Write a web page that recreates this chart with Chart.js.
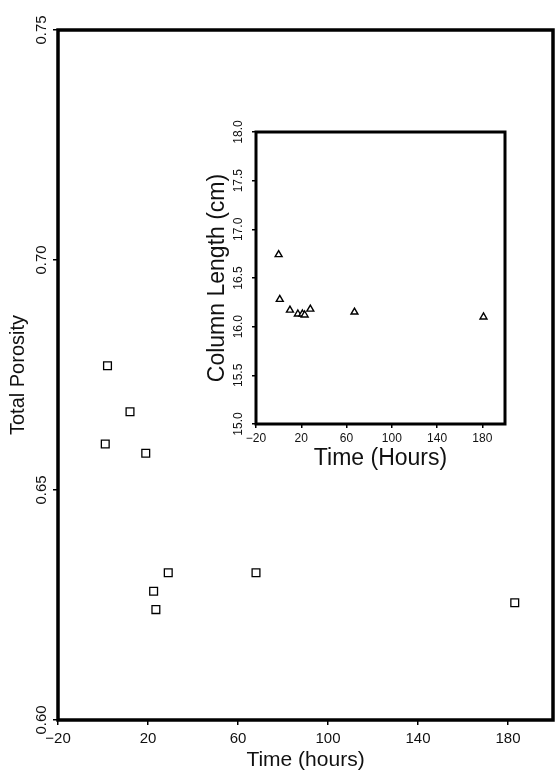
<!DOCTYPE html>
<html>
<head>
<meta charset="utf-8">
<script src="https://cdn.jsdelivr.net/npm/chart.js@4.4.1/dist/chart.umd.min.js"></script>
<style>
  body { margin: 0; background: #fff; }
  .wrap { position: relative; width: 555px; height: 771px; }
  #main { position: absolute; left: 0; top: 0; }
  #inset { position: absolute; left: 205px; top: 100px; }
</style>
</head>
<body>
<div class="wrap">
  <canvas id="main" width="555" height="771"></canvas>
  <canvas id="inset" width="305" height="375"></canvas>
</div>
<script>
// main plot: total porosity vs time
const hours = [1, 2, 12, 19, 22.5, 23.5, 29, 68, 183];
const porosity = [0.660, 0.677, 0.667, 0.658, 0.628, 0.624, 0.632, 0.632, 0.6255];

// inset: column length vs time
const insetHours = [0, 1, 10, 17, 21, 23, 28, 67, 181];
const columnLength = [16.74, 16.28, 16.17, 16.13, 16.13, 16.12, 16.18, 16.15, 16.10];

// tick values
const timeTicks = [-20, 20, 60, 100, 140, 180];
const porosityTicks = [0.60, 0.65, 0.70, 0.75];
const lengthTicks = [15.0, 15.5, 16.0, 16.5, 17.0, 17.5, 18.0];

Chart.defaults.font.family = '"Liberation Sans", Arial, sans-serif';
Chart.defaults.color = '#111';

const fmtTime = (v) => (v < 0 ? '\u2212' + Math.abs(v) : String(v));

// thick box around the plot area
const framePlugin = {
  id: 'frame',
  beforeDatasetsDraw(chart, args, opts) {
    const { ctx, chartArea: a } = chart;
    ctx.save();
    ctx.strokeStyle = '#000';
    ctx.lineWidth = opts.width || 3;
    ctx.strokeRect(a.left, a.top, a.right - a.left, a.bottom - a.top);
    ctx.restore();
  }
};

const tickGrid = (len) => ({
  display: true,
  drawOnChartArea: false,
  drawTicks: true,
  tickLength: len,
  color: '#000',
  lineWidth: 1.5
});

// fixed axis size, no extra room for overhanging labels
const fixHeight = (h) => (s) => { s.height = h; s.paddingLeft = 0; s.paddingRight = 0; };
const fixWidth = (w) => (s) => { s.width = w; s.paddingTop = 0; s.paddingBottom = 0; };

const toPoints = (xs, ys) => xs.map((x, i) => ({ x: x, y: ys[i] }));

new Chart(document.getElementById('main'), {
  type: 'scatter',
  data: {
    datasets: [{
      data: toPoints(hours, porosity),
      pointStyle: 'rect',
      pointRadius: 5.5,
      pointBorderWidth: 1.3,
      pointBorderColor: '#000',
      pointBackgroundColor: '#fff'
    }]
  },
  options: {
    responsive: false,
    animation: false,
    layout: { autoPadding: false, padding: { top: 30, right: 2, left: 0, bottom: 0 } },
    plugins: {
      legend: { display: false },
      tooltip: { enabled: false },
      frame: { width: 3.5 }
    },
    scales: {
      x: {
        type: 'linear',
        min: -20,
        max: 200,
        afterBuildTicks: (s) => { s.ticks = timeTicks.map(v => ({ value: v })); },
        afterFit: fixHeight(51),
        grid: tickGrid(5),
        border: { display: false },
        ticks: { font: { size: 15 }, padding: 5, maxRotation: 0, autoSkip: false, callback: fmtTime },
        title: {
          display: true,
          text: 'Time (hours)',
          font: { size: 21, lineHeight: 1 },
          padding: { top: 0, bottom: 0 }
        }
      },
      y: {
        min: 0.60,
        max: 0.75,
        afterBuildTicks: (s) => { s.ticks = porosityTicks.map(v => ({ value: v })); },
        afterFit: fixWidth(58),
        grid: tickGrid(5),
        border: { display: false },
        ticks: {
          font: { size: 15 },
          minRotation: 90,
          maxRotation: 90,
          crossAlign: 'center',
          padding: -3.5,
          autoSkip: false,
          callback: (v) => v.toFixed(2)
        },
        title: {
          display: true,
          text: 'Total Porosity',
          font: { size: 20, lineHeight: 1 },
          padding: { top: 8, bottom: 0 }
        }
      }
    }
  },
  plugins: [framePlugin]
});

new Chart(document.getElementById('inset'), {
  type: 'scatter',
  data: {
    datasets: [{
      data: toPoints(insetHours, columnLength),
      pointStyle: 'triangle',
      pointRadius: 4,
      pointBorderWidth: 1.4,
      pointBorderColor: '#000',
      pointBackgroundColor: '#fff'
    }]
  },
  options: {
    responsive: false,
    animation: false,
    layout: { autoPadding: false, padding: { top: 32, right: 5, left: 0, bottom: 0 } },
    plugins: {
      legend: { display: false },
      tooltip: { enabled: false },
      frame: { width: 3 }
    },
    scales: {
      x: {
        type: 'linear',
        min: -20,
        max: 200,
        afterBuildTicks: (s) => { s.ticks = timeTicks.map(v => ({ value: v })); },
        afterFit: fixHeight(51),
        grid: tickGrid(4),
        border: { display: false },
        ticks: { font: { size: 12 }, padding: 3, maxRotation: 0, autoSkip: false, callback: fmtTime },
        title: {
          display: true,
          text: 'Time (Hours)',
          font: { size: 23, lineHeight: 1 },
          padding: { top: 0, bottom: 5 }
        }
      },
      y: {
        min: 15,
        max: 18,
        afterBuildTicks: (s) => { s.ticks = lengthTicks.map(v => ({ value: v })); },
        afterFit: fixWidth(51),
        grid: tickGrid(4),
        border: { display: false },
        ticks: {
          font: { size: 12 },
          minRotation: 90,
          maxRotation: 90,
          crossAlign: 'center',
          padding: 2,
          autoSkip: false,
          callback: (v) => v.toFixed(1)
        },
        title: {
          display: true,
          text: 'Column Length (cm)',
          font: { size: 23, lineHeight: 1 },
          padding: { top: 1, bottom: 0 }
        }
      }
    }
  },
  plugins: [framePlugin]
});
</script>
</body>
</html>
